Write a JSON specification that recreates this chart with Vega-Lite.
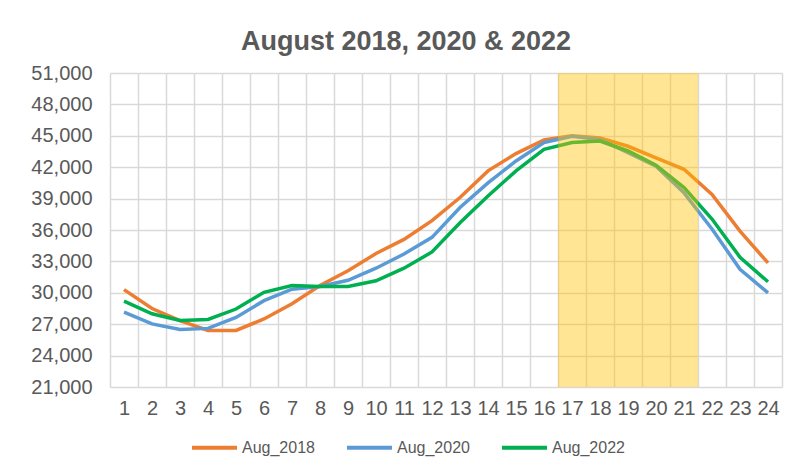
{
  "$schema": "https://vega.github.io/schema/vega-lite/v6.json",
  "width": 672,
  "height": 314,
  "autosize": {"type": "none"},
  "padding": {"left": 110, "top": 73, "right": 19, "bottom": 80},
  "background": "white",
  "config": {
    "font": "Liberation Sans",
    "view": {"stroke": null}
  },
  "title": {
    "text": "August 2018, 2020 & 2022",
    "font": "Liberation Sans",
    "fontSize": 27,
    "fontWeight": "bold",
    "color": "#595959",
    "anchor": "middle",
    "dx": -40,
    "offset": 7
  },
  "datasets": {
    "series": [
      {"hour": 1, "series": "Aug_2018", "value": 30300},
      {"hour": 2, "series": "Aug_2018", "value": 28500},
      {"hour": 3, "series": "Aug_2018", "value": 27350},
      {"hour": 4, "series": "Aug_2018", "value": 26400},
      {"hour": 5, "series": "Aug_2018", "value": 26400},
      {"hour": 6, "series": "Aug_2018", "value": 27500},
      {"hour": 7, "series": "Aug_2018", "value": 28950},
      {"hour": 8, "series": "Aug_2018", "value": 30700},
      {"hour": 9, "series": "Aug_2018", "value": 32100},
      {"hour": 10, "series": "Aug_2018", "value": 33750},
      {"hour": 11, "series": "Aug_2018", "value": 35100},
      {"hour": 12, "series": "Aug_2018", "value": 36900},
      {"hour": 13, "series": "Aug_2018", "value": 39100},
      {"hour": 14, "series": "Aug_2018", "value": 41650},
      {"hour": 15, "series": "Aug_2018", "value": 43300},
      {"hour": 16, "series": "Aug_2018", "value": 44600},
      {"hour": 17, "series": "Aug_2018", "value": 45000},
      {"hour": 18, "series": "Aug_2018", "value": 44800},
      {"hour": 19, "series": "Aug_2018", "value": 44000},
      {"hour": 20, "series": "Aug_2018", "value": 42900},
      {"hour": 21, "series": "Aug_2018", "value": 41800},
      {"hour": 22, "series": "Aug_2018", "value": 39400},
      {"hour": 23, "series": "Aug_2018", "value": 35900},
      {"hour": 24, "series": "Aug_2018", "value": 32850},
      {"hour": 1, "series": "Aug_2020", "value": 28150},
      {"hour": 2, "series": "Aug_2020", "value": 27030},
      {"hour": 3, "series": "Aug_2020", "value": 26500},
      {"hour": 4, "series": "Aug_2020", "value": 26600},
      {"hour": 5, "series": "Aug_2020", "value": 27650},
      {"hour": 6, "series": "Aug_2020", "value": 29250},
      {"hour": 7, "series": "Aug_2020", "value": 30350},
      {"hour": 8, "series": "Aug_2020", "value": 30600},
      {"hour": 9, "series": "Aug_2020", "value": 31200},
      {"hour": 10, "series": "Aug_2020", "value": 32350},
      {"hour": 11, "series": "Aug_2020", "value": 33700},
      {"hour": 12, "series": "Aug_2020", "value": 35300},
      {"hour": 13, "series": "Aug_2020", "value": 38150},
      {"hour": 14, "series": "Aug_2020", "value": 40500},
      {"hour": 15, "series": "Aug_2020", "value": 42600},
      {"hour": 16, "series": "Aug_2020", "value": 44350},
      {"hour": 17, "series": "Aug_2020", "value": 44950},
      {"hour": 18, "series": "Aug_2020", "value": 44650},
      {"hour": 19, "series": "Aug_2020", "value": 43400},
      {"hour": 20, "series": "Aug_2020", "value": 42100},
      {"hour": 21, "series": "Aug_2020", "value": 39550},
      {"hour": 22, "series": "Aug_2020", "value": 36100},
      {"hour": 23, "series": "Aug_2020", "value": 32250},
      {"hour": 24, "series": "Aug_2020", "value": 30000},
      {"hour": 1, "series": "Aug_2022", "value": 29200},
      {"hour": 2, "series": "Aug_2022", "value": 28000},
      {"hour": 3, "series": "Aug_2022", "value": 27350},
      {"hour": 4, "series": "Aug_2022", "value": 27450},
      {"hour": 5, "series": "Aug_2022", "value": 28450},
      {"hour": 6, "series": "Aug_2022", "value": 30050},
      {"hour": 7, "series": "Aug_2022", "value": 30700},
      {"hour": 8, "series": "Aug_2022", "value": 30600},
      {"hour": 9, "series": "Aug_2022", "value": 30600},
      {"hour": 10, "series": "Aug_2022", "value": 31150},
      {"hour": 11, "series": "Aug_2022", "value": 32350},
      {"hour": 12, "series": "Aug_2022", "value": 33900},
      {"hour": 13, "series": "Aug_2022", "value": 36700},
      {"hour": 14, "series": "Aug_2022", "value": 39250},
      {"hour": 15, "series": "Aug_2022", "value": 41650},
      {"hour": 16, "series": "Aug_2022", "value": 43700},
      {"hour": 17, "series": "Aug_2022", "value": 44350},
      {"hour": 18, "series": "Aug_2022", "value": 44500},
      {"hour": 19, "series": "Aug_2022", "value": 43550},
      {"hour": 20, "series": "Aug_2022", "value": 42200},
      {"hour": 21, "series": "Aug_2022", "value": 40050},
      {"hour": 22, "series": "Aug_2022", "value": 37050},
      {"hour": 23, "series": "Aug_2022", "value": 33400},
      {"hour": 24, "series": "Aug_2022", "value": 31050}
    ],
    "highlight": [
      {"hour": 17}, {"hour": 18}, {"hour": 19}, {"hour": 20}, {"hour": 21}
    ]
  },
  "encoding": {
    "x": {
      "field": "hour",
      "type": "ordinal",
      "scale": {
        "type": "band",
        "domain": [1,2,3,4,5,6,7,8,9,10,11,12,13,14,15,16,17,18,19,20,21,22,23,24],
        "paddingInner": 0,
        "paddingOuter": 0
      },
      "axis": {
        "title": null,
        "tickBand": "extent",
        "grid": true,
        "gridColor": "#D9D9D9",
        "gridWidth": 1.5,
        "domain": false,
        "ticks": false,
        "labelAngle": 0,
        "labelFontSize": 20,
        "labelColor": "#595959",
        "labelPadding": 11,
        "labelFont": "Liberation Sans"
      }
    }
  },
  "layer": [
    {
      "data": {"name": "series"},
      "mark": {"type": "line", "strokeWidth": 3.5},
      "encoding": {
        "y": {
          "field": "value",
          "type": "quantitative",
          "scale": {"domain": [21000, 51000], "nice": false, "zero": false},
          "axis": {
            "title": null,
            "values": [21000, 24000, 27000, 30000, 33000, 36000, 39000, 42000, 45000, 48000, 51000],
            "format": ",.0f",
            "grid": true,
            "gridColor": "#D9D9D9",
            "gridWidth": 1.5,
            "domain": false,
            "ticks": false,
            "labelFontSize": 20,
            "labelColor": "#595959",
            "labelPadding": 18,
            "labelFont": "Liberation Sans",
            "labelOverlap": false
          }
        },
        "color": {
          "field": "series",
          "type": "nominal",
          "scale": {
            "domain": ["Aug_2018", "Aug_2020", "Aug_2022"],
            "range": ["#ED7D31", "#5B9BD5", "#00B050"]
          },
          "legend": {
            "title": null,
            "orient": "none",
            "legendX": 80,
            "legendY": 350,
            "direction": "horizontal",
            "symbolType": "stroke",
            "symbolSize": 2025,
            "symbolStrokeWidth": 4,
            "labelFontSize": 16,
            "labelColor": "#595959",
            "labelFont": "Liberation Sans",
            "labelOffset": 3,
            "columnPadding": 24
          }
        }
      }
    },
    {
      "data": {"name": "highlight"},
      "mark": {"type": "bar", "color": "#FFC000", "opacity": 0.42},
      "encoding": {
        "y": {
          "datum": 51000,
          "type": "quantitative",
          "scale": {"domain": [21000, 51000], "nice": false, "zero": false},
          "axis": {
            "title": null,
            "values": [21000, 24000, 27000, 30000, 33000, 36000, 39000, 42000, 45000, 48000, 51000],
            "format": ",.0f",
            "grid": true,
            "gridColor": "#D9D9D9",
            "gridWidth": 1.5,
            "domain": false,
            "ticks": false,
            "labelFontSize": 20,
            "labelColor": "#595959",
            "labelPadding": 18,
            "labelFont": "Liberation Sans",
            "labelOverlap": false
          }
        },
        "y2": {"datum": 21000}
      }
    }
  ]
}
